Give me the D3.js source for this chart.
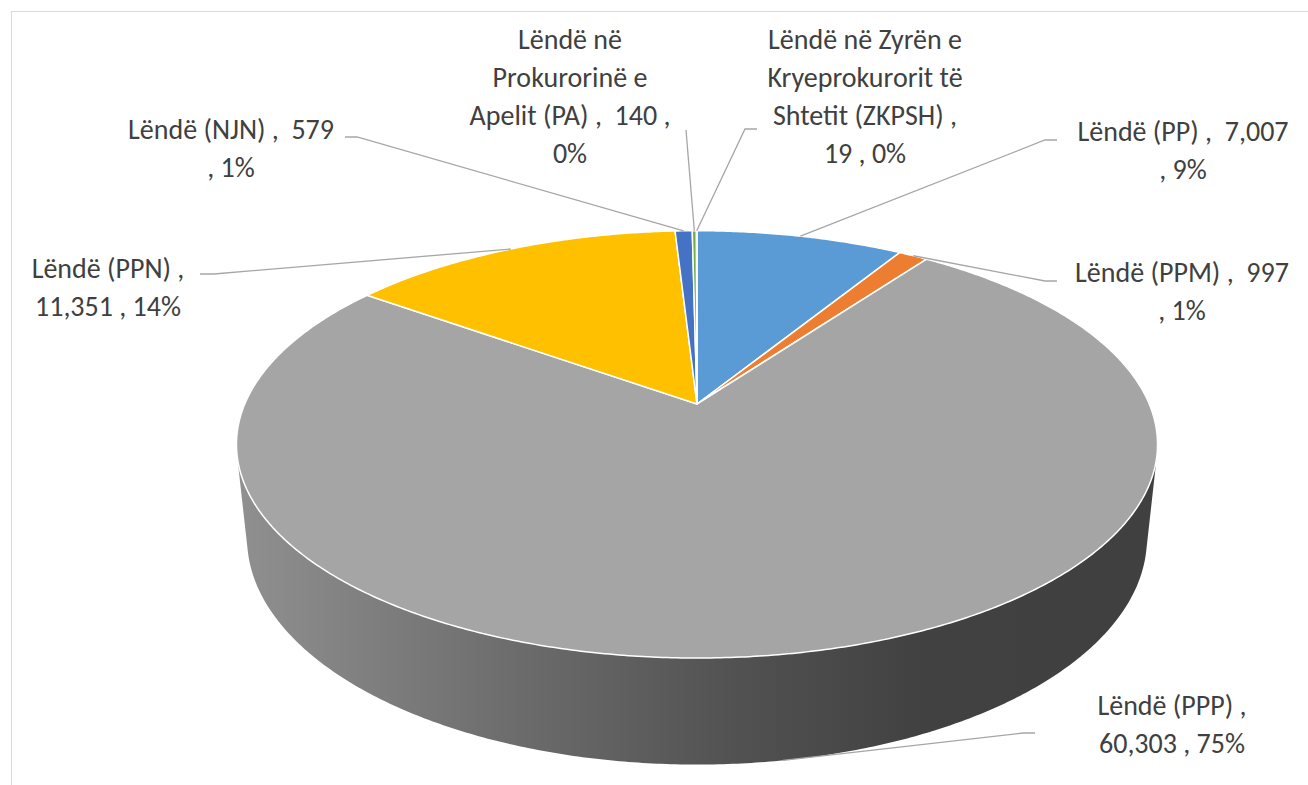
<!DOCTYPE html>
<html>
<head>
<meta charset="utf-8">
<script src="https://cdn.jsdelivr.net/npm/d3@7"></script>
<style>
  body { margin: 0; background: #fff; }
  svg text { white-space: pre; }
</style>
</head>
<body>
<div id="chart"></div>
<script>
// data
var categories = [
  "Lëndë (PP)",
  "Lëndë (PPM)",
  "Lëndë (PPP)",
  "Lëndë (PPN)",
  "Lëndë (NJN)",
  "Lëndë në\nProkurorinë e\nApelit (PA)",
  "Lëndë në Zyrën e\nKryeprokurorit të\nShtetit (ZKPSH)"
];
var values = [7007, 997, 60303, 11351, 579, 140, 19];
var colors = ["#5B9BD5", "#ED7D31", "#A5A5A5", "#FFC000", "#4472C4", "#70AD47", "#255E91"];

// how each data label is broken into lines
var labelFormats = [
  "{n} ,  {v}|, {p}",
  "{n} ,  {v}|, {p}",
  "{n} ,|{v} , {p}",
  "{n} ,|{v} , {p}",
  "{n} ,  {v}|, {p}",
  "{n} ,  {v} ,|{p}",
  "{n} ,|{v} , {p}"
];
// label position (centre x, first baseline) and leader elbows
var labelPos = [[1183, 141], [1182, 282], [1172, 715], [108, 278], [231, 139], [570, 49], [865, 49]];
var leaderPts = [
  [[1045, 140], [1057, 140]],
  [[1045, 281], [1057, 281]],
  [[1023, 733], [1035, 733]],
  [[214, 274], [200, 274]],
  [[357, 137], [345, 137]],
  [[686, 130]],
  [[745, 129], [757, 129]]
];

var width = 1308, height = 785;

var svg = d3.select("#chart").append("svg")
  .attr("width", width)
  .attr("height", height);

svg.append("rect")
  .attr("x", 11.5).attr("y", 11.5)
  .attr("width", 1400).attr("height", 800)
  .attr("fill", "none")
  .attr("stroke", "#d9d9d9");

// simple perspective camera for the 3d pie (unit radius disk)
var cx = 697, cy = 404, F = 2130, D = 4.71, H = 0.235;
var phi = 27.1 * Math.PI / 180, sp = Math.sin(phi), cp = Math.cos(phi);

function proj(r, th, y) {
  var x = r * Math.sin(th), z = -r * Math.cos(th);
  var d = D - y * sp - z * cp;
  var up = y * cp - z * sp;
  return [cx + F * x / d, cy - F * up / d];
}

function arcPts(a0, a1, y) {
  var n = Math.max(2, Math.ceil(Math.abs(a1 - a0) / (Math.PI / 360)));
  return d3.range(n + 1).map(function(i) {
    return proj(1, a0 + (a1 - a0) * i / n, y);
  });
}

var pie = d3.pie().sort(null).startAngle(0).endAngle(2 * Math.PI);
var arcs = pie(values);
var total = d3.sum(values);
var line = d3.line();

var defs = svg.append("defs");
var left = proj(1, 1.5 * Math.PI, 0)[0], right = proj(1, 0.5 * Math.PI, 0)[0];

// side walls (only the part facing the camera)
var visLo = Math.acos(-1 / (D * cp)), visHi = 2 * Math.PI - visLo;
arcs.forEach(function(a, i) {
  var lo = Math.max(a.startAngle, visLo), hi = Math.min(a.endAngle, visHi);
  if (lo >= hi) return;
  var base = d3.color(colors[i]);
  var g = defs.append("linearGradient")
    .attr("id", "side" + i)
    .attr("gradientUnits", "userSpaceOnUse")
    .attr("x1", left).attr("x2", right).attr("y1", 0).attr("y2", 0);
  // light on the left, dark on the right
  g.append("stop").attr("offset", 0).attr("stop-color", base.darker(0.4));
  g.append("stop").attr("offset", 0.3).attr("stop-color", base.darker(1.2));
  g.append("stop").attr("offset", 0.55).attr("stop-color", base.darker(2.0));
  g.append("stop").attr("offset", 0.75).attr("stop-color", base.darker(2.6));
  g.append("stop").attr("offset", 1).attr("stop-color", base.darker(2.65));
  var pts = arcPts(lo, hi, 0).concat(arcPts(hi, lo, -H));
  svg.append("path")
    .attr("d", line(pts) + "Z")
    .attr("fill", "url(#side" + i + ")");
});

// top faces
var center = proj(0, 0, 0);
svg.append("g").selectAll("path")
  .data(arcs)
  .enter()
  .append("path")
  .attr("d", function(a) {
    return line([center].concat(arcPts(a.startAngle, a.endAngle, 0))) + "Z";
  })
  .attr("fill", function(a, i) { return colors[i]; })
  .attr("stroke", "#fff")
  .attr("stroke-width", 1.5)
  .attr("stroke-linejoin", "round");

// leader lines
arcs.forEach(function(a, i) {
  var mid = (a.startAngle + a.endAngle) / 2;
  var y = (mid > visLo && mid < visHi) ? -H : 0;
  var anchor = proj(1, mid, y);
  svg.append("path")
    .attr("d", line([anchor].concat(leaderPts[i])))
    .attr("fill", "none")
    .attr("stroke", "#a6a6a6")
    .attr("stroke-width", 1.3);
});

// data labels
var fmt = d3.format(",");
arcs.forEach(function(a, i) {
  var pct = Math.round(values[i] / total * 100) + "%";
  var txt = labelFormats[i]
    .replace("{n}", categories[i].split("\n").join("|"))
    .replace("{v}", fmt(values[i]))
    .replace("{p}", pct);
  var lines = txt.split("|");
  var t = svg.append("text")
    .attr("text-anchor", "middle")
    .attr("font-family", "Carlito, Lato, sans-serif")
    .attr("font-size", 28)
    .attr("fill", "#404040");
  lines.forEach(function(s, k) {
    t.append("tspan")
      .attr("x", labelPos[i][0])
      .attr("y", labelPos[i][1] + k * 38)
      .text(s);
  });
});
</script>
</body>
</html>
